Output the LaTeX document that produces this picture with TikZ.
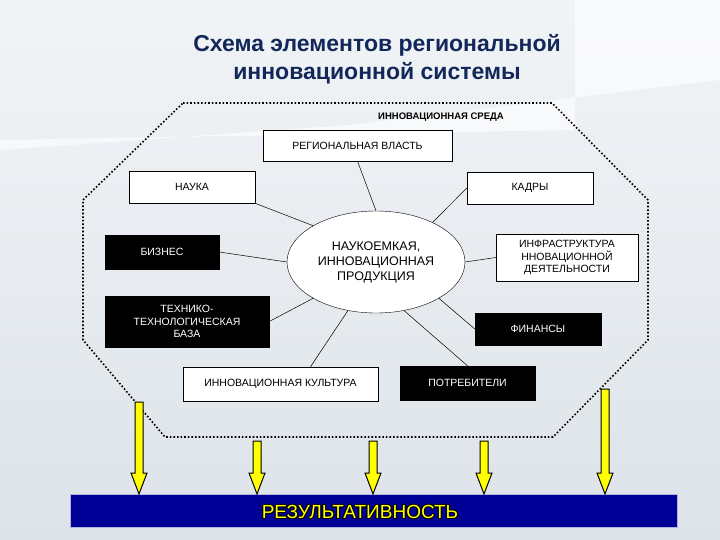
\documentclass[tikz,border=0pt]{standalone}
\usepackage{fontspec}
\setmainfont{Liberation Sans}
\usetikzlibrary{shapes.geometric}
\definecolor{bgc}{HTML}{DDE3E9}
\definecolor{titlec}{HTML}{12285A}
\definecolor{barc}{HTML}{000096}
\definecolor{yel}{HTML}{FFFF00}
\begin{document}
\begin{tikzpicture}[x=1pt,y=-1pt,
  wbox/.style={draw=black,fill=white,font=\fontsize{10.5}{12.5}\selectfont,align=center,inner sep=1pt},
  bbox/.style={draw=black,fill=black,text=white,font=\fontsize{10.5}{12.5}\selectfont,align=center,inner sep=1pt},
  conn/.style={draw=black,line width=0.5pt},
  yarrow/.style={draw=black,line width=1pt,fill=yel}]
\useasboundingbox (0,0) rectangle (720,540);
\shade[top color=white!60!bgc,bottom color=bgc] (0,0) rectangle (720,540);
\fill[white,opacity=0.6] (0,150) -- (350,125) -- (720,80) -- (720,0) -- (575,0) -- (575,130) -- (0,140) -- cycle;
\node[font=\bfseries\fontsize{23}{28}\selectfont,text=titlec,align=center] (title) at (377,59) {Схема элементов региональной\\инновационной системы};
\draw[line width=1.6pt,dotted] (183,103) -- (552,103) -- (648,200) -- (648,340) -- (553,437) -- (165,437) -- (83,340) -- (83,200) -- cycle;
\node[font=\bfseries\fontsize{9.5}{11}\selectfont] (env) at (441,117) {ИННОВАЦИОННАЯ СРЕДА};
\node[wbox,minimum width=189pt,minimum height=31pt] (rv) at (357.5,145.5) {РЕГИОНАЛЬНАЯ ВЛАСТЬ};
\node[wbox,minimum width=126pt,minimum height=32pt,anchor=north west] (nauka) at (129,171) {};
\node[font=\fontsize{10.5}{12.5}\selectfont] (naukat) at (192,187) {НАУКА};
\node[wbox,minimum width=126pt,minimum height=32pt] (kadry) at (530,188) {КАДРЫ};
\node[bbox,minimum width=114pt,minimum height=34pt] (biz) at (162,252) {БИЗНЕС};
\node[draw=black,fill=white,ellipse,minimum width=178pt,minimum height=102pt,inner sep=0pt,font=\fontsize{12.5}{15}\selectfont,align=center] (ell) at (376,262) {НАУКОЕМКАЯ,\\ИННОВАЦИОННАЯ\\ПРОДУКЦИЯ};
\node[wbox,minimum width=142pt,minimum height=47pt] (infra) at (567,257.5) {ИНФРАСТРУКТУРА\\ННОВАЦИОННОЙ\\ДЕЯТЕЛЬНОСТИ};
\node[bbox,minimum width=164pt,minimum height=51pt] (tech) at (187,321.5) {ТЕХНИКО-\\ТЕХНОЛОГИЧЕСКАЯ\\БАЗА};
\node[bbox,minimum width=126pt,minimum height=32pt] (fin) at (538,329) {ФИНАНСЫ};
\node[wbox,minimum width=195pt,minimum height=34pt] (cult) at (280.5,384) {ИННОВАЦИОННАЯ КУЛЬТУРА};
\node[bbox,minimum width=135pt,minimum height=34pt] (potr) at (467.5,383) {ПОТРЕБИТЕЛИ};
\draw[conn] (ell.north) -- (rv.south);
\draw[conn] (nauka.south east) -- (ell.150);
\draw[conn] (kadry.west) -- (ell.35);
\draw[conn] (biz.east) -- (ell.west);
\draw[conn] (infra.west) -- (ell.east);
\draw[conn] (tech.east) -- (ell.210);
\draw[conn] (fin.west) -- (ell.330);
\coordinate (c1) at ([xshift=30pt]cult.north);
\draw[conn] (c1) -- (ell.240);
\draw[conn] (ell.300) -- (potr.north);
\node[fill=barc,draw=white!70!barc,minimum width=607pt,minimum height=33pt] (bar) at (373.5,510.5) {};
\foreach \dx/\dy in {-1/0,1/0,0/-1,0/1,-0.7/-0.7,0.7/0.7,-0.7/0.7,0.7/-0.7}
  \node[font=\fontsize{19}{22}\selectfont,text=black] at (360+\dx,512+\dy) {РЕЗУЛЬТАТИВНОСТЬ};
\node[font=\fontsize{19}{22}\selectfont,text=yel] (res) at (360,512) {РЕЗУЛЬТАТИВНОСТЬ};
\foreach \x/\y in {139/402,257/441,373/441,484/441,605/389}{
  \draw[yarrow] (\x-4,\y) -- (\x+4,\y) -- (\x+4,473) -- (\x+8,473) -- (\x,494) -- (\x-8,473) -- (\x-4,473) -- cycle;
}
\end{tikzpicture}
\end{document}
